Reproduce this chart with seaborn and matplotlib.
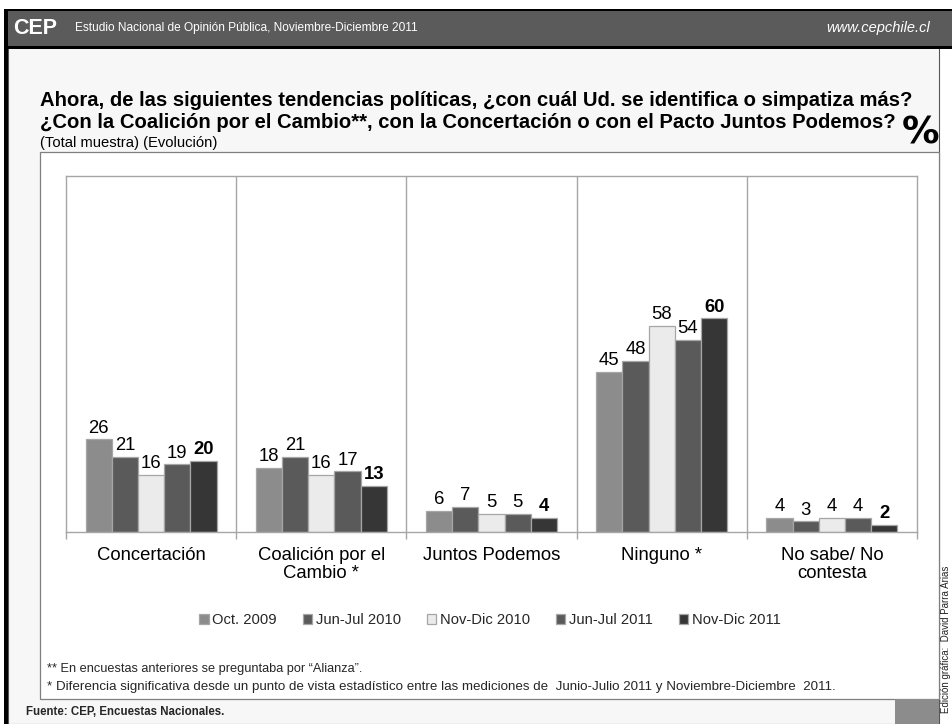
import matplotlib
matplotlib.use("Agg")
import matplotlib.pyplot as plt
from matplotlib.patches import Rectangle
import seaborn as sns
import pandas as pd

categories = ["Concertación", "Coalición por el\nCambio *", "Juntos Podemos", "Ninguno *", "No sabe/ No\ncontesta"]
series = ["Oct. 2009", "Jun-Jul 2010", "Nov-Dic 2010", "Jun-Jul 2011", "Nov-Dic 2011"]
oct_2009 = [26, 18, 6, 45, 4]
junjul_2010 = [21, 21, 7, 48, 3]
novdic_2010 = [16, 16, 5, 58, 4]
junjul_2011 = [19, 17, 5, 54, 4]
novdic_2011 = [20, 13, 4, 60, 2]
colors = ["#8c8c8c", "#5a5a5a", "#ebebeb", "#5a5a5a", "#363636"]

values = [oct_2009, junjul_2010, novdic_2010, junjul_2011, novdic_2011]
rows = []
for s, vals in zip(series, values):
    for c, v in zip(categories, vals):
        rows.append({"cat": c, "serie": s, "val": v})
df = pd.DataFrame(rows)

sns.set_theme(style="white")
plt.rcParams["font.family"] = ["Liberation Sans", "DejaVu Sans"]

W, H = 953, 724
fig = plt.figure(figsize=(W / 100, H / 100), dpi=100)
fig.patch.set_facecolor("white")

def fx(x):
    return x / W

def fy(y):
    return 1 - y / H

def rect(x0, y0, x1, y1, fc, ec="none", lw=0, z=-5):
    fig.patches.append(Rectangle((fx(x0), fy(y1)), fx(x1) - fx(x0), fy(y0) - fy(y1),
                                 transform=fig.transFigure, facecolor=fc, edgecolor=ec,
                                 linewidth=lw, zorder=z))

# background frame
rect(8, 47, 939, 724, "#f7f7f7", ec="#555555", lw=0.8, z=-6)
rect(4, 9, 953, 47, "#5b5b5b")
rect(4, 9, 953, 11, "#000000")
rect(4, 46, 953, 48.5, "#000000")
rect(4, 9, 8, 724, "#000000")
rect(40, 152, 939, 699, "white", ec="#7f7f7f", lw=0.9)
rect(895, 699, 939, 724, "#8c8c8c")

# header texts
fig.text(fx(13), fy(28), "CEP", color="white", fontsize=15.5, fontweight="bold", va="center")
fig.text(fx(75), fy(28), "Estudio Nacional de Opinión Pública, Noviembre-Diciembre 2011",
         color="white", fontsize=8.6, va="center")
fig.text(fx(930), fy(28), "www.cepchile.cl", color="white", fontsize=10.5, va="center",
         ha="right", style="italic")

# title
fig.text(fx(40), fy(100), "Ahora, de las siguientes tendencias políticas, ¿con cuál Ud. se identifica o simpatiza más?",
         fontsize=14.6, fontweight="bold", va="center", color="black")
fig.text(fx(40), fy(122), "¿Con la Coalición por el Cambio**, con la Concertación o con el Pacto Juntos Podemos?",
         fontsize=14.6, fontweight="bold", va="center", color="black")
fig.text(fx(40), fy(143), "(Total muestra) (Evolución)", fontsize=10.6, va="center", color="black")
fig.text(fx(939), fy(133), "%", fontsize=27, fontweight="bold", va="center", ha="right", color="black",
         family=["DejaVu Sans"])

# axes
ax = fig.add_axes([fx(66), fy(532), fx(917) - fx(66), fy(176) - fy(532)])
ax.set_facecolor("white")
sns.barplot(data=df, x="cat", y="val", hue="serie", palette=colors, order=categories,
            hue_order=series, width=0.77, edgecolor="#a6a6a6", linewidth=0.9,
            saturation=1, ax=ax, legend=True)
ax.set_ylim(0, 100)
ax.set_xlim(-0.5, 4.5)
ax.set_xlabel("")
ax.set_ylabel("")
ax.set_yticks([])
for sp in ax.spines.values():
    sp.set_color("#a6a6a6")
    sp.set_linewidth(1.0)
for xb in [0.5, 1.5, 2.5, 3.5]:
    ax.axvline(xb, color="#a6a6a6", lw=1.0, zorder=0)
ax.set_xticks(range(5))
ax.set_xticklabels(categories, fontsize=13.3, color="black", linespacing=1.05)
ax.tick_params(axis="x", length=0, pad=11)
ax.set_xticks([-0.5, 0.5, 1.5, 2.5, 3.5, 4.5], minor=True)
ax.tick_params(axis="x", which="minor", length=5, color="#a6a6a6", width=1.0, direction="out", bottom=True)

for i, cont in enumerate(ax.containers):
    ax.bar_label(cont, fontsize=13.3, padding=2, color="black",
                 fontweight="bold" if i == len(ax.containers) - 1 else "normal")

handles, labels = ax.get_legend_handles_labels()
ax.get_legend().remove()
fig.legend(handles, labels, loc="center", bbox_to_anchor=(fx(490), fy(620)), ncol=5,
           frameon=False, fontsize=10.6, handlelength=0.65, handleheight=0.65,
           handletextpad=0.25, columnspacing=1.75)

# footnotes
fig.text(fx(47), fy(669), "** En encuestas anteriores se preguntaba por “Alianza”.", fontsize=9.2,
         va="center")
fig.text(fx(47), fy(687), "* Diferencia significativa desde un punto de vista estadístico entre las mediciones de  Junio-Julio 2011 y Noviembre-Diciembre  2011.",
         fontsize=9.6, va="center")
fig.text(fx(26), fy(712), "Fuente: CEP, Encuestas Nacionales.", fontsize=8.3, fontweight="bold",
         va="center")
fig.text(fx(946), fy(639), "Edición gráfica:  David Parra Arias", fontsize=7, rotation=90,
         va="center", ha="center", color="#222222")

fig.savefig("out.png", dpi=100)
